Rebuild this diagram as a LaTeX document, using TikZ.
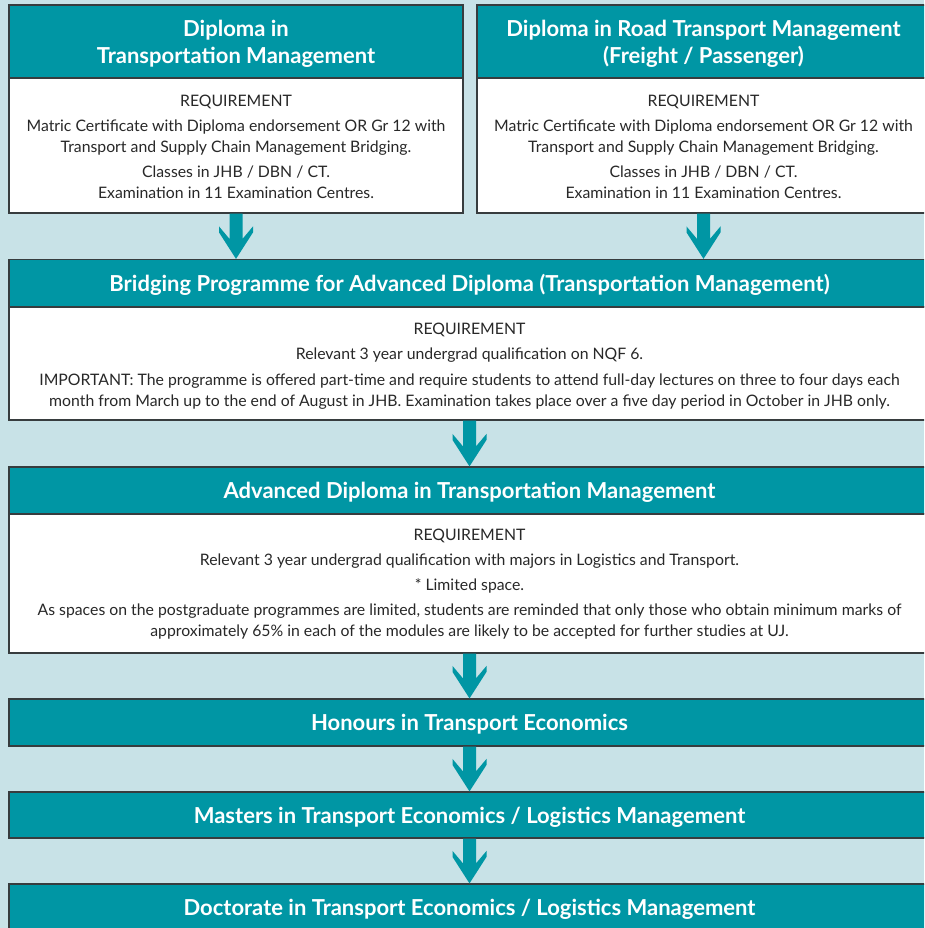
\documentclass[tikz,border=0pt]{standalone}
\usepackage{fontspec}
\setmainfont{Lato}
\usetikzlibrary{calc}
\definecolor{ujteal}{RGB}{0,150,164}
\definecolor{ujbg}{RGB}{200,226,231}
\definecolor{ujedge}{RGB}{55,60,62}
\definecolor{ujtext}{RGB}{40,40,40}
\newcommand\flowarrow[2]{%
  \fill[ujteal] let \p1=(#1), \p2=(#2) in
    (\x1-6.5pt,\y1) -- (\x1+6.5pt,\y1) -- (\x1+6.5pt,\y2+20pt)
    -- (\x1+17pt,\y2+32.5pt) -- (\x1+17pt,\y2+26.5pt) -- (\x1,\y2)
    -- (\x1-17pt,\y2+26.5pt) -- (\x1-17pt,\y2+32.5pt) -- (\x1-6.5pt,\y2+20pt) -- cycle;}
\begin{document}
\begin{tikzpicture}[x=1pt,y=-1pt,
  hdr/.style={draw=ujedge, line width=1.2pt, fill=ujteal, text=white,
    font=\fontsize{22}{27}\selectfont\bfseries, align=center, inner sep=0pt, text depth=0pt},
  bodybox/.style={draw=ujedge, line width=1.2pt, fill=white, inner sep=0pt},
  bodytext/.style={text=ujtext, font=\fontsize{15.8}{21}\selectfont, align=center, inner sep=0pt}]
\path[use as bounding box] (0,0) rectangle (924,928);
\clip (0,0) rectangle (924,928);
\fill[ujbg] (0,0) rectangle (924,928);

% top left
\node[hdr, minimum width=454pt, minimum height=73pt] (hA) at (236,41.5) {Diploma in\\Transportation Management};
\node[bodybox, minimum width=454pt, minimum height=135pt] (bA) at (236,145.5) {};
\node[bodytext, anchor=base] (tA) at (236,198.5) {REQUIREMENT\\[4pt]
Matric Certificate with Diploma endorsement OR Gr 12 with\\
Transport and Supply Chain Management Bridging.\\[4pt]
Classes in JHB / DBN / CT.\\
Examination in 11 Examination Centres.};

% top right
\node[hdr, minimum width=453pt, minimum height=73pt] (hB) at (703.5,41.5) {Diploma in Road Transport Management\\(Freight / Passenger)};
\node[bodybox, minimum width=453pt, minimum height=135pt] (bB) at (703.5,145.5) {};
\node[bodytext, anchor=base] (tB) at (703.5,198.5) {REQUIREMENT\\[4pt]
Matric Certificate with Diploma endorsement OR Gr 12 with\\
Transport and Supply Chain Management Bridging.\\[4pt]
Classes in JHB / DBN / CT.\\
Examination in 11 Examination Centres.};

% bridging
\node[hdr, minimum width=921pt, minimum height=47.5pt] (hC) at (469.5,283.25) {Bridging Programme for Advanced Diploma (Transportation Management)};
\node[bodybox, minimum width=921pt, minimum height=113pt] (bC) at (469.5,363.5) {};
\node[bodytext, anchor=base] (tC) at (469.5,406) {REQUIREMENT\\[4pt]
Relevant 3 year undergrad qualification on NQF 6.\\[5pt]
IMPORTANT: The programme is offered part-time and require students to attend full-day lectures on three to four days each\\
month from March up to the end of August in JHB. Examination takes place over a five day period in October in JHB only.};

% advanced
\node[hdr, minimum width=921pt, minimum height=47pt] (hD) at (469.5,490.5) {Advanced Diploma in Transportation Management};
\node[bodybox, minimum width=921pt, minimum height=139pt] (bD) at (469.5,583.5) {};
\node[bodytext, anchor=base] (tD) at (469.5,636.7) {REQUIREMENT\\[4pt]
Relevant 3 year undergrad qualification with majors in Logistics and Transport.\\[4pt]
* Limited space.\\[4pt]
As spaces on the postgraduate programmes are limited, students are reminded that only those who obtain minimum marks of\\
approximately 65\% in each of the modules are likely to be accepted for further studies at UJ.};

% lower
\node[hdr, minimum width=921pt, minimum height=47pt] (hE) at (469.5,722.5) {Honours in Transport Economics};
\node[hdr, minimum width=921pt, minimum height=46pt] (hF) at (469.5,815) {Masters in Transport Economics / Logistics Management};
\node[hdr, minimum width=921pt, minimum height=47pt] (hG) at (469.5,907.5) {Doctorate in Transport Economics / Logistics Management};

% arrows
\flowarrow{bA.south}{hC.north}
\flowarrow{bB.south}{hC.north}
\flowarrow{bC.south}{hD.north}
\flowarrow{bD.south}{hE.north}
\flowarrow{hE.south}{hF.north}
\flowarrow{hF.south}{hG.north}
\end{tikzpicture}
\end{document}
